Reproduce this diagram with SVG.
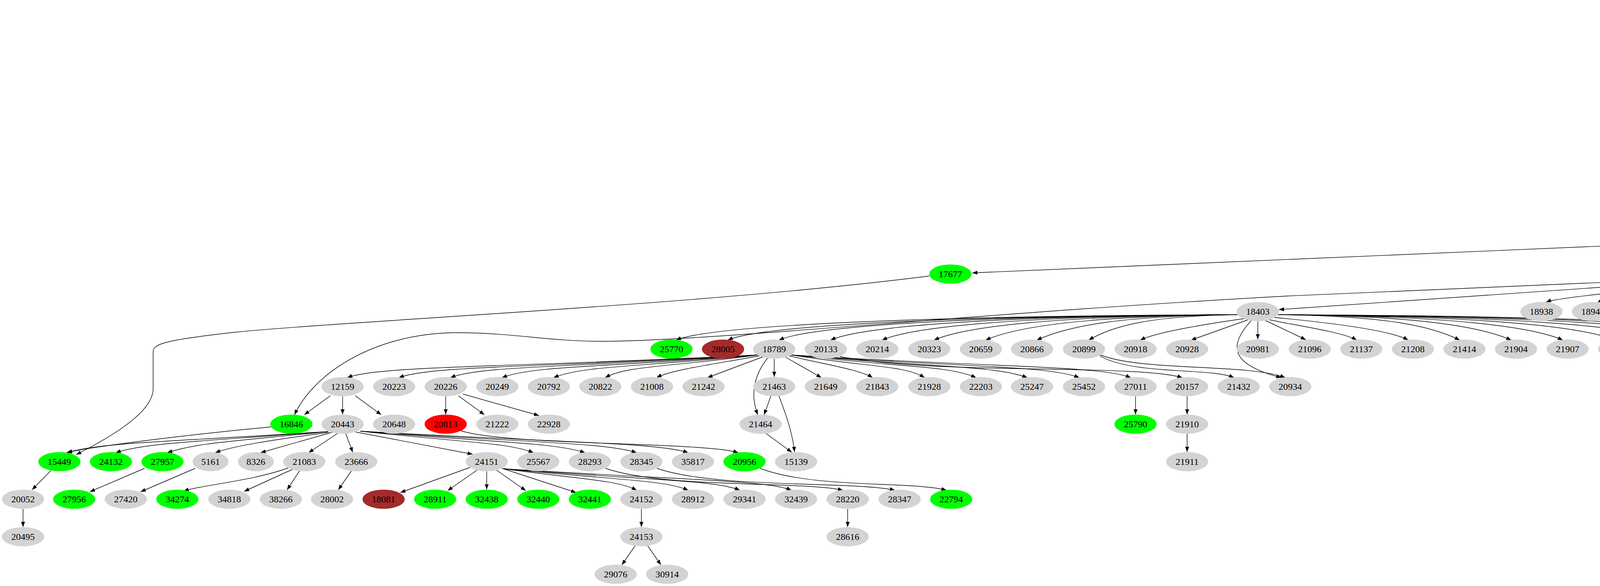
<svg xmlns="http://www.w3.org/2000/svg" width="5589" height="1499" viewBox="0 0 5589 1499">
<style>
ellipse,rect{stroke:none}
.n{fill:#d3d3d3}.gr{fill:#00ff00}.rd{fill:#ff0000}.br{fill:#a52a2a}
text{font-family:"Liberation Serif","Times New Roman",serif;font-size:24px;text-anchor:middle;fill:#000}
#edges path{fill:none;stroke:#000;stroke-width:1.4;marker-end:url(#ah)}
</style>
<defs>
<marker id="ah" markerUnits="userSpaceOnUse" viewBox="0 0 13 10" refX="13" refY="5" markerWidth="13" markerHeight="10" orient="auto"><path d="M0,0L13,5L0,10z" fill="#000"/></marker>
</defs>
<rect width="5589" height="1499" fill="#fff"/>
<g id="edges">
<path d="M4682,52L4712,101"/><path d="M4770,52L4741,101"/><path d="M4737,148L4758,197"/>
<path d="M4572,244L4592,293"/><path d="M4780,244L4806,293"/><path d="M4444,340L4475,389"/>
<path d="M4497,436L4513,485"/><path d="M4682,436L4672,485"/><path d="M4540,532L4582,580"/>
<path d="M4652,532L4618,580"/><path d="M4617,630L4653,677"/><path d="M4588,630L4555,677"/>
<path d="M5244,714L5484,784"/><path d="M4642,612L5148,693"/><path d="M4562,610L2489,698"/>
<path d="M4725,149C4720,250 4690,330 4688,389"/>
<path d="M4557,245C4545,320 4580,370 4668,393"/>
<path d="M4763,245C4750,300 4700,350 4692,389"/>
<path d="M4622,340L4665,390"/><path d="M4787,340L4719,389"/><path d="M4894,333L4727,397"/>
<path d="M2379,706C1800,780 900,820 600,850C420,870 392,880 392,900L392,995C392,1060 260,1130 195,1163"/>
<path d="M4485,706L3300,757C2500,800 1800,875 1530,873C1400,872 1300,850 1161,851C950,855 800,960 754,1061"/>
<path d="M4487,708L3274,792"/>
<path d="M4497,716C4200,740 3990,760 3958,773"/>
<path d="M4498,717C4280,745 4110,760 4090,774"/>
<path d="M4500,718C4350,745 4230,760 4220,773"/>
<path d="M4510,720C4420,745 4360,760 4352,773"/>
<path d="M4523,724L4489,773"/><path d="M4555,724L4589,773"/>
<path d="M4568,720C4660,745 4720,760 4725,773"/>
<path d="M4578,718C4750,750 4840,755 4858,773"/>
<path d="M4580,717C4800,760 4960,755 4988,773"/>
<path d="M4580,717C4850,765 5090,755 5120,773"/>
<path d="M4580,717C4900,770 5220,755 5252,773"/>
<path d="M4580,717C4950,775 5350,755 5384,773"/>
<path d="M3168,805C2306,808 1811,835 1731,870"/>
<path d="M3168,805C2385,808 1943,835 1863,870"/>
<path d="M3168,805C2464,808 2074,835 1994,870"/>
<path d="M3168,805C2543,808 2206,835 2126,870"/>
<path d="M3168,805C2622,808 2338,835 2258,870"/>
<path d="M3168,805C2702,808 2471,835 2391,870"/>
<path d="M3168,805C2781,808 2603,835 2523,870"/>
<path d="M3168,805C2860,808 2731,835 2654,870"/>
<path d="M3168,805C2940,808 2846,835 2787,870"/>
<path d="M3185,815C3080,830 2960,850 2919,870"/>
<path d="M3195,818L3049,870"/><path d="M3220,822L3220,868"/><path d="M3240,820L3343,869"/>
<path d="M3250,818C3330,835 3440,850 3473,870"/>
<path d="M3262,812C3400,825 3560,845 3605,870"/>
<path d="M3272,805C3551,808 3667,835 3737,870"/>
<path d="M3272,805C3630,808 3789,835 3869,870"/>
<path d="M3272,805C3709,808 3921,835 4001,870"/>
<path d="M3272,805C3789,808 4053,835 4133,870"/>
<path d="M3272,805C3867,808 4184,835 4264,870"/>
<path d="M3272,805C3946,808 4316,835 4396,870"/>
<path d="M3272,805C4026,808 4448,835 4528,870"/>
<path d="M3272,805C4105,808 4580,835 4660,870"/>
<path d="M3203,820C3150,880 3140,930 3280,966"/>
<path d="M4240,815C4350,860 4700,850 4790,870"/>
<path d="M4372,815C4500,860 4830,850 4922,870"/>
<path d="M4504,815C4630,860 4960,850 5054,870"/>
<path d="M1940,908C1307,940 969,935 889,966"/>
<path d="M1940,908C1387,940 1101,935 1021,966"/>
<path d="M1940,908C1466,940 1233,935 1153,966"/>
<path d="M1940,908C1545,940 1365,935 1285,966"/>
<path d="M1940,908C1624,940 1495,935 1417,966"/>
<path d="M1940,908C1703,940 1607,935 1549,966"/>
<path d="M1945,910C1840,930 1720,945 1681,966"/>
<path d="M1955,912L1811,966"/><path d="M1982,918L1982,964"/><path d="M2008,912L2103,966"/>
<path d="M2020,910C2100,930 2200,945 2234,966"/>
<path d="M2026,908C2232,940 2317,935 2367,966"/>
<path d="M2026,908C2311,940 2429,935 2499,966"/>
<path d="M2026,908C2390,940 2550,935 2630,966"/>
<path d="M2026,908C2469,940 2683,935 2763,966"/>
<path d="M2026,908C2549,940 2815,935 2895,966"/>
<path d="M2150,912C2400,960 2900,930 3027,966"/>
<path d="M1965,916C1930,960 1920,1010 1940,1061"/>
<path d="M2815,910C2900,960 3100,940 3159,966"/>
<path d="M2818,908C2920,950 3200,930 3290,966"/>
<path d="M2907,1014L2907,1060"/><path d="M3039,1014L3039,1060"/><path d="M3039,1110L3039,1156"/>
<path d="M4804,918L4804,964"/><path d="M4936,918L4936,964"/><path d="M5068,918L5068,964"/>
<path d="M846,1012L779,1061"/><path d="M877,1014L877,1060"/><path d="M909,1012L976,1061"/>
<path d="M1141,1014L1141,1060"/><path d="M1173,1012L1240,1061"/><path d="M1185,1008L1380,1063"/>
<path d="M1974,1012L1956,1061"/>
<path d="M1994,1013C2020,1080 2030,1120 2034,1156"/>
<path d="M1960,1108L2027,1157"/>
<path d="M694,1092C500,1110 250,1140 170,1158"/>
<path d="M840,1104C435,1130 252,1132 172,1158"/>
<path d="M840,1104C510,1130 376,1132 296,1158"/>
<path d="M840,1104C589,1130 508,1132 428,1158"/>
<path d="M842,1106C700,1125 600,1140 551,1158"/>
<path d="M853,1105L667,1158"/><path d="M865,1108L790,1158"/><path d="M885,1109L903,1157"/>
<path d="M910,1105L1210,1162"/>
<path d="M922,1103C1189,1132 1300,1132 1366,1158"/>
<path d="M922,1103C1268,1132 1418,1132 1498,1158"/>
<path d="M922,1103C1348,1132 1550,1132 1630,1158"/>
<path d="M922,1103C1427,1132 1682,1132 1762,1158"/>
<path d="M1180,1102C1300,1140 1800,1130 1890,1158"/>
<path d="M130,1204L82,1253"/><path d="M370,1198L230,1258"/><path d="M500,1198L360,1258"/>
<path d="M740,1196C650,1230 520,1240 470,1256"/>
<path d="M750,1200L625,1257"/><path d="M767,1204L735,1253"/><path d="M900,1204L866,1253"/>
<path d="M1205,1195L1025,1260"/><path d="M1222,1202L1146,1255"/><path d="M1246,1206L1246,1252"/>
<path d="M1270,1202L1346,1255"/><path d="M1285,1198L1475,1260"/>
<path d="M1288,1199C1502,1228 1580,1228 1630,1254"/>
<path d="M1288,1199C1580,1228 1702,1228 1762,1254"/>
<path d="M1288,1199C1653,1228 1834,1228 1894,1254"/>
<path d="M1288,1199C1740,1228 1966,1228 2026,1254"/>
<path d="M1550,1198C1700,1250 2050,1230 2158,1254"/>
<path d="M1682,1198C1830,1250 2180,1230 2291,1254"/>
<path d="M1946,1198C2080,1250 2330,1230 2423,1254"/>
<path d="M59,1302L59,1348"/><path d="M1642,1302L1642,1348"/><path d="M2170,1302L2170,1348"/>
<path d="M1626,1396L1592,1445"/><path d="M1658,1396L1692,1445"/>
</g>
<g id="n8129"><ellipse class="n" cx="4668" cy="29" rx="46" ry="24.5"/><text x="4668" y="37">8129</text></g>
<g id="n8154"><ellipse class="n" cx="4784" cy="29" rx="46" ry="24.5"/><text x="4784" y="37">8154</text></g>
<g id="n6430"><ellipse class="n" cx="4727" cy="125" rx="46" ry="24.5"/><text x="4727" y="133">6430</text></g>
<g id="n5872"><ellipse class="n" cx="4562" cy="221" rx="46" ry="24.5"/><text x="4562" y="229">5872</text></g>
<g id="n6431"><ellipse class="n" cx="4768" cy="221" rx="46" ry="24.5"/><text x="4768" y="229">6431</text></g>
<g id="n16086"><ellipse class="n" cx="4430" cy="317" rx="54" ry="24.5"/><text x="4430" y="325">16086</text></g>
<g id="n6438"><ellipse class="n" cx="4602" cy="317" rx="46" ry="24.5"/><text x="4602" y="325">6438</text></g>
<g id="n6432"><ellipse class="n" cx="4819" cy="317" rx="46" ry="24.5"/><text x="4819" y="325">6432</text></g>
<g id="n7359"><ellipse class="n" cx="4935" cy="317" rx="46" ry="24.5"/><text x="4935" y="325">7359</text></g>
<g id="n17796"><ellipse class="n" cx="4490" cy="413" rx="54" ry="24.5"/><text x="4490" y="421">17796</text></g>
<g id="n5549"><ellipse class="n" cx="4686" cy="413" rx="46" ry="24.5"/><text x="4686" y="421">5549</text></g>
<g id="n17689"><ellipse class="n" cx="4521" cy="509" rx="54" ry="24.5"/><text x="4521" y="517">17689</text></g>
<g id="n17679"><ellipse class="n" cx="4668" cy="509" rx="54" ry="24.5"/><text x="4668" y="517">17679</text></g>
<g id="n17680"><rect class="n" x="4562" y="580.5" width="80" height="49"/><text x="4602" y="613">17680</text></g>
<g id="n17677"><ellipse class="gr" cx="2433" cy="701" rx="54" ry="24.5"/><text x="2433" y="709">17677</text></g>
<g id="n17829"><ellipse class="n" cx="4539" cy="701" rx="54" ry="24.5"/><text x="4539" y="709">17829</text></g>
<g id="n18996"><ellipse class="n" cx="4670" cy="701" rx="54" ry="24.5"/><text x="4670" y="709">18996</text></g>
<g id="n21020"><ellipse class="n" cx="5199" cy="701" rx="54" ry="24.5"/><text x="5199" y="709">21020</text></g>
<g id="n18403"><ellipse class="n" cx="3220" cy="797" rx="54" ry="24.5"/><text x="3220" y="805">18403</text></g>
<g id="n18938"><ellipse class="n" cx="3946" cy="797" rx="54" ry="24.5"/><text x="3946" y="805">18938</text></g>
<g id="n18942"><ellipse class="n" cx="4078" cy="797" rx="54" ry="24.5"/><text x="4078" y="805">18942</text></g>
<g id="n19048"><ellipse class="n" cx="4209" cy="797" rx="54" ry="24.5"/><text x="4209" y="805">19048</text></g>
<g id="n19080"><ellipse class="n" cx="4341" cy="797" rx="54" ry="24.5"/><text x="4341" y="805">19080</text></g>
<g id="n19276"><ellipse class="n" cx="4473" cy="797" rx="54" ry="24.5"/><text x="4473" y="805">19276</text></g>
<g id="n19808"><ellipse class="n" cx="4605" cy="797" rx="54" ry="24.5"/><text x="4605" y="805">19808</text></g>
<g id="n20003"><ellipse class="n" cx="4736" cy="797" rx="54" ry="24.5"/><text x="4736" y="805">20003</text></g>
<g id="n20303"><ellipse class="n" cx="4869" cy="797" rx="54" ry="24.5"/><text x="4869" y="805">20303</text></g>
<g id="n20348"><ellipse class="n" cx="5000" cy="797" rx="54" ry="24.5"/><text x="5000" y="805">20348</text></g>
<g id="n20763"><ellipse class="n" cx="5133" cy="797" rx="54" ry="24.5"/><text x="5133" y="805">20763</text></g>
<g id="n20998"><ellipse class="n" cx="5265" cy="797" rx="54" ry="24.5"/><text x="5265" y="805">20998</text></g>
<g id="n21019"><ellipse class="n" cx="5397" cy="797" rx="54" ry="24.5"/><text x="5397" y="805">21019</text></g>
<g id="n27166"><ellipse class="n" cx="5529" cy="797" rx="54" ry="24.5"/><text x="5529" y="805">27166</text></g>
<g id="n25770"><ellipse class="gr" cx="1719" cy="893" rx="54" ry="24.5"/><text x="1719" y="901">25770</text></g>
<g id="n28005"><ellipse class="br" cx="1851" cy="893" rx="54" ry="24.5"/><text x="1851" y="901">28005</text></g>
<g id="n18789"><ellipse class="n" cx="1982" cy="893" rx="54" ry="24.5"/><text x="1982" y="901">18789</text></g>
<g id="n20133"><ellipse class="n" cx="2114" cy="893" rx="54" ry="24.5"/><text x="2114" y="901">20133</text></g>
<g id="n20214"><ellipse class="n" cx="2246" cy="893" rx="54" ry="24.5"/><text x="2246" y="901">20214</text></g>
<g id="n20323"><ellipse class="n" cx="2379" cy="893" rx="54" ry="24.5"/><text x="2379" y="901">20323</text></g>
<g id="n20659"><ellipse class="n" cx="2511" cy="893" rx="54" ry="24.5"/><text x="2511" y="901">20659</text></g>
<g id="n20866"><ellipse class="n" cx="2642" cy="893" rx="54" ry="24.5"/><text x="2642" y="901">20866</text></g>
<g id="n20899"><ellipse class="n" cx="2775" cy="893" rx="54" ry="24.5"/><text x="2775" y="901">20899</text></g>
<g id="n20918"><ellipse class="n" cx="2907" cy="893" rx="54" ry="24.5"/><text x="2907" y="901">20918</text></g>
<g id="n20928"><ellipse class="n" cx="3039" cy="893" rx="54" ry="24.5"/><text x="3039" y="901">20928</text></g>
<g id="n20981"><ellipse class="n" cx="3220" cy="893" rx="54" ry="24.5"/><text x="3220" y="901">20981</text></g>
<g id="n21096"><ellipse class="n" cx="3353" cy="893" rx="54" ry="24.5"/><text x="3353" y="901">21096</text></g>
<g id="n21137"><ellipse class="n" cx="3485" cy="893" rx="54" ry="24.5"/><text x="3485" y="901">21137</text></g>
<g id="n21208"><ellipse class="n" cx="3617" cy="893" rx="54" ry="24.5"/><text x="3617" y="901">21208</text></g>
<g id="n21414"><ellipse class="n" cx="3749" cy="893" rx="54" ry="24.5"/><text x="3749" y="901">21414</text></g>
<g id="n21904"><ellipse class="n" cx="3881" cy="893" rx="54" ry="24.5"/><text x="3881" y="901">21904</text></g>
<g id="n21907"><ellipse class="n" cx="4013" cy="893" rx="54" ry="24.5"/><text x="4013" y="901">21907</text></g>
<g id="n23097"><ellipse class="n" cx="4145" cy="893" rx="54" ry="24.5"/><text x="4145" y="901">23097</text></g>
<g id="n24018"><ellipse class="n" cx="4276" cy="893" rx="54" ry="24.5"/><text x="4276" y="901">24018</text></g>
<g id="n25142"><ellipse class="n" cx="4408" cy="893" rx="54" ry="24.5"/><text x="4408" y="901">25142</text></g>
<g id="n28973"><ellipse class="n" cx="4540" cy="893" rx="54" ry="24.5"/><text x="4540" y="901">28973</text></g>
<g id="n29580"><ellipse class="n" cx="4672" cy="893" rx="54" ry="24.5"/><text x="4672" y="901">29580</text></g>
<g id="n12691"><ellipse class="n" cx="4804" cy="893" rx="54" ry="24.5"/><text x="4804" y="901">12691</text></g>
<g id="n19791"><ellipse class="n" cx="4936" cy="893" rx="54" ry="24.5"/><text x="4936" y="901">19791</text></g>
<g id="n19280"><ellipse class="n" cx="5068" cy="893" rx="54" ry="24.5"/><text x="5068" y="901">19280</text></g>
<g id="n12159"><ellipse class="n" cx="877" cy="989" rx="54" ry="24.5"/><text x="877" y="997">12159</text></g>
<g id="n20223"><ellipse class="n" cx="1009" cy="989" rx="54" ry="24.5"/><text x="1009" y="997">20223</text></g>
<g id="n20226"><ellipse class="n" cx="1141" cy="989" rx="54" ry="24.5"/><text x="1141" y="997">20226</text></g>
<g id="n20249"><ellipse class="n" cx="1273" cy="989" rx="54" ry="24.5"/><text x="1273" y="997">20249</text></g>
<g id="n20792"><ellipse class="n" cx="1405" cy="989" rx="54" ry="24.5"/><text x="1405" y="997">20792</text></g>
<g id="n20822"><ellipse class="n" cx="1537" cy="989" rx="54" ry="24.5"/><text x="1537" y="997">20822</text></g>
<g id="n21008"><ellipse class="n" cx="1669" cy="989" rx="54" ry="24.5"/><text x="1669" y="997">21008</text></g>
<g id="n21242"><ellipse class="n" cx="1801" cy="989" rx="54" ry="24.5"/><text x="1801" y="997">21242</text></g>
<g id="n21463"><ellipse class="n" cx="1982" cy="989" rx="54" ry="24.5"/><text x="1982" y="997">21463</text></g>
<g id="n21649"><ellipse class="n" cx="2114" cy="989" rx="54" ry="24.5"/><text x="2114" y="997">21649</text></g>
<g id="n21843"><ellipse class="n" cx="2246" cy="989" rx="54" ry="24.5"/><text x="2246" y="997">21843</text></g>
<g id="n21928"><ellipse class="n" cx="2379" cy="989" rx="54" ry="24.5"/><text x="2379" y="997">21928</text></g>
<g id="n22203"><ellipse class="n" cx="2511" cy="989" rx="54" ry="24.5"/><text x="2511" y="997">22203</text></g>
<g id="n25247"><ellipse class="n" cx="2642" cy="989" rx="54" ry="24.5"/><text x="2642" y="997">25247</text></g>
<g id="n25452"><ellipse class="n" cx="2775" cy="989" rx="54" ry="24.5"/><text x="2775" y="997">25452</text></g>
<g id="n27011"><ellipse class="n" cx="2907" cy="989" rx="54" ry="24.5"/><text x="2907" y="997">27011</text></g>
<g id="n20157"><ellipse class="n" cx="3039" cy="989" rx="54" ry="24.5"/><text x="3039" y="997">20157</text></g>
<g id="n21432"><ellipse class="n" cx="3171" cy="989" rx="54" ry="24.5"/><text x="3171" y="997">21432</text></g>
<g id="n20934"><ellipse class="n" cx="3303" cy="989" rx="54" ry="24.5"/><text x="3303" y="997">20934</text></g>
<g id="n17381"><ellipse class="n" cx="4804" cy="989" rx="54" ry="24.5"/><text x="4804" y="997">17381</text></g>
<g id="n25249"><ellipse class="n" cx="4936" cy="989" rx="54" ry="24.5"/><text x="4936" y="997">25249</text></g>
<g id="n20251"><ellipse class="n" cx="5068" cy="989" rx="54" ry="24.5"/><text x="5068" y="997">20251</text></g>
<g id="n16846"><ellipse class="gr" cx="746" cy="1085" rx="54" ry="24.5"/><text x="746" y="1093">16846</text></g>
<g id="n20443"><ellipse class="n" cx="877" cy="1085" rx="54" ry="24.5"/><text x="877" y="1093">20443</text></g>
<g id="n20648"><ellipse class="n" cx="1009" cy="1085" rx="54" ry="24.5"/><text x="1009" y="1093">20648</text></g>
<g id="n20813"><ellipse class="rd" cx="1141" cy="1085" rx="54" ry="24.5"/><text x="1141" y="1093">20813</text></g>
<g id="n21222"><ellipse class="n" cx="1273" cy="1085" rx="54" ry="24.5"/><text x="1273" y="1093">21222</text></g>
<g id="n22928"><ellipse class="n" cx="1405" cy="1085" rx="54" ry="24.5"/><text x="1405" y="1093">22928</text></g>
<g id="n21464"><ellipse class="n" cx="1947" cy="1085" rx="54" ry="24.5"/><text x="1947" y="1093">21464</text></g>
<g id="n25790"><ellipse class="gr" cx="2907" cy="1085" rx="54" ry="24.5"/><text x="2907" y="1093">25790</text></g>
<g id="n21910"><ellipse class="n" cx="3039" cy="1085" rx="54" ry="24.5"/><text x="3039" y="1093">21910</text></g>
<g id="n15449"><ellipse class="gr" cx="152" cy="1181" rx="54" ry="24.5"/><text x="152" y="1189">15449</text></g>
<g id="n24132"><ellipse class="gr" cx="284" cy="1181" rx="54" ry="24.5"/><text x="284" y="1189">24132</text></g>
<g id="n27957"><ellipse class="gr" cx="416" cy="1181" rx="54" ry="24.5"/><text x="416" y="1189">27957</text></g>
<g id="n5161"><ellipse class="n" cx="539" cy="1181" rx="46" ry="24.5"/><text x="539" y="1189">5161</text></g>
<g id="n8326"><ellipse class="n" cx="655" cy="1181" rx="46" ry="24.5"/><text x="655" y="1189">8326</text></g>
<g id="n21083"><ellipse class="n" cx="779" cy="1181" rx="54" ry="24.5"/><text x="779" y="1189">21083</text></g>
<g id="n23666"><ellipse class="n" cx="912" cy="1181" rx="54" ry="24.5"/><text x="912" y="1189">23666</text></g>
<g id="n24151"><ellipse class="n" cx="1246" cy="1181" rx="54" ry="24.5"/><text x="1246" y="1189">24151</text></g>
<g id="n25567"><ellipse class="n" cx="1378" cy="1181" rx="54" ry="24.5"/><text x="1378" y="1189">25567</text></g>
<g id="n28293"><ellipse class="n" cx="1510" cy="1181" rx="54" ry="24.5"/><text x="1510" y="1189">28293</text></g>
<g id="n28345"><ellipse class="n" cx="1642" cy="1181" rx="54" ry="24.5"/><text x="1642" y="1189">28345</text></g>
<g id="n35817"><ellipse class="n" cx="1774" cy="1181" rx="54" ry="24.5"/><text x="1774" y="1189">35817</text></g>
<g id="n20956"><ellipse class="gr" cx="1906" cy="1181" rx="54" ry="24.5"/><text x="1906" y="1189">20956</text></g>
<g id="n15139"><ellipse class="n" cx="2038" cy="1181" rx="54" ry="24.5"/><text x="2038" y="1189">15139</text></g>
<g id="n21911"><ellipse class="n" cx="3039" cy="1181" rx="54" ry="24.5"/><text x="3039" y="1189">21911</text></g>
<g id="n20052"><ellipse class="n" cx="59" cy="1277" rx="54" ry="24.5"/><text x="59" y="1285">20052</text></g>
<g id="n27956"><ellipse class="gr" cx="190" cy="1277" rx="54" ry="24.5"/><text x="190" y="1285">27956</text></g>
<g id="n27420"><ellipse class="n" cx="322" cy="1277" rx="54" ry="24.5"/><text x="322" y="1285">27420</text></g>
<g id="n34274"><ellipse class="gr" cx="454" cy="1277" rx="54" ry="24.5"/><text x="454" y="1285">34274</text></g>
<g id="n34818"><ellipse class="n" cx="587" cy="1277" rx="54" ry="24.5"/><text x="587" y="1285">34818</text></g>
<g id="n38266"><ellipse class="n" cx="719" cy="1277" rx="54" ry="24.5"/><text x="719" y="1285">38266</text></g>
<g id="n28002"><ellipse class="n" cx="850" cy="1277" rx="54" ry="24.5"/><text x="850" y="1285">28002</text></g>
<g id="n18081"><ellipse class="br" cx="982" cy="1277" rx="54" ry="24.5"/><text x="982" y="1285">18081</text></g>
<g id="n28911"><ellipse class="gr" cx="1114" cy="1277" rx="54" ry="24.5"/><text x="1114" y="1285">28911</text></g>
<g id="n32438"><ellipse class="gr" cx="1246" cy="1277" rx="54" ry="24.5"/><text x="1246" y="1285">32438</text></g>
<g id="n32440"><ellipse class="gr" cx="1378" cy="1277" rx="54" ry="24.5"/><text x="1378" y="1285">32440</text></g>
<g id="n32441"><ellipse class="gr" cx="1510" cy="1277" rx="54" ry="24.5"/><text x="1510" y="1285">32441</text></g>
<g id="n24152"><ellipse class="n" cx="1642" cy="1277" rx="54" ry="24.5"/><text x="1642" y="1285">24152</text></g>
<g id="n28912"><ellipse class="n" cx="1774" cy="1277" rx="54" ry="24.5"/><text x="1774" y="1285">28912</text></g>
<g id="n29341"><ellipse class="n" cx="1906" cy="1277" rx="54" ry="24.5"/><text x="1906" y="1285">29341</text></g>
<g id="n32439"><ellipse class="n" cx="2038" cy="1277" rx="54" ry="24.5"/><text x="2038" y="1285">32439</text></g>
<g id="n28220"><ellipse class="n" cx="2170" cy="1277" rx="54" ry="24.5"/><text x="2170" y="1285">28220</text></g>
<g id="n28347"><ellipse class="n" cx="2303" cy="1277" rx="54" ry="24.5"/><text x="2303" y="1285">28347</text></g>
<g id="n22794"><ellipse class="gr" cx="2435" cy="1277" rx="54" ry="24.5"/><text x="2435" y="1285">22794</text></g>
<g id="n20495"><ellipse class="n" cx="59" cy="1373" rx="54" ry="24.5"/><text x="59" y="1381">20495</text></g>
<g id="n24153"><ellipse class="n" cx="1642" cy="1373" rx="54" ry="24.5"/><text x="1642" y="1381">24153</text></g>
<g id="n28616"><ellipse class="n" cx="2170" cy="1373" rx="54" ry="24.5"/><text x="2170" y="1381">28616</text></g>
<g id="n29076"><ellipse class="n" cx="1576" cy="1469" rx="54" ry="24.5"/><text x="1576" y="1477">29076</text></g>
<g id="n30914"><ellipse class="n" cx="1708" cy="1469" rx="54" ry="24.5"/><text x="1708" y="1477">30914</text></g>
</svg>
